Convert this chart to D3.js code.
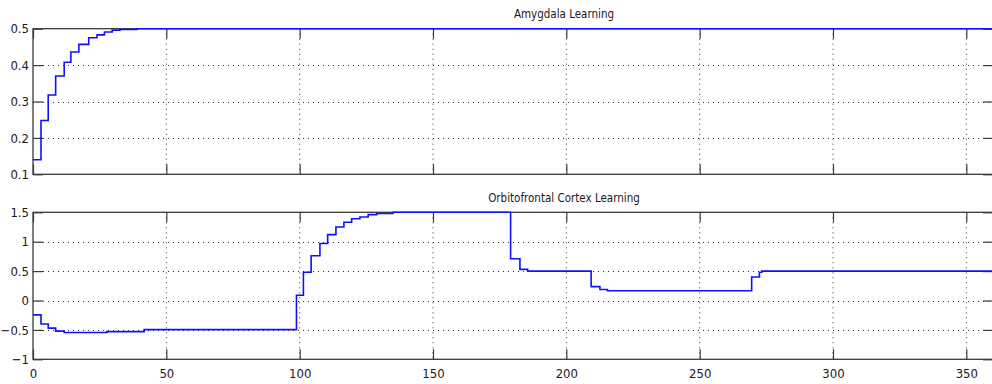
<!DOCTYPE html>
<html>
<head>
<meta charset="utf-8">
<script src="https://cdn.jsdelivr.net/npm/d3@7"></script>
<style>
  html, body { margin: 0; padding: 0; background: #fff; }
  svg { display: block; }
  text { font-family: "Liberation Sans Narrow", "DejaVu Sans Condensed", "Liberation Sans", sans-serif; fill: #1a1a1a; }
</style>
</head>
<body>
<svg id="chart" width="992" height="384"></svg>
<script>
// Amygdala learning: [time, value] steps (held until next time)
const amygdalaTimes  = [0, 3, 5.7, 8.5, 11.7, 14.2, 17.2, 20.9, 24, 26.8, 29.7, 32.6, 39];
const amygdalaValues = [0.14, 0.248, 0.318, 0.37, 0.408, 0.436, 0.457, 0.475, 0.483, 0.491, 0.496, 0.498, 0.5];

// Orbitofrontal cortex learning: [time, value] steps
const ofcTimes  = [0, 3, 5.7, 8.5, 11.7, 27.7, 41.7, 98.8, 101.4, 104.3, 107.6, 110.5, 113.6, 116.6, 119.5,
                   122.6, 125.7, 128.9, 135, 179.1, 182.6, 185.5, 209.3, 212.6, 215.4, 269.5, 272.4, 273.3];
const ofcValues = [-0.245, -0.40, -0.47, -0.52, -0.545, -0.53, -0.495, 0.09, 0.48, 0.76, 0.97, 1.12, 1.25, 1.33, 1.39,
                   1.42, 1.46, 1.48, 1.5, 0.71, 0.53, 0.5, 0.236, 0.186, 0.165, 0.40, 0.48, 0.5];

const xEnd = 360;
const xTicks = [0, 50, 100, 150, 200, 250, 300, 350];
const amygdalaTicks = [0.1, 0.2, 0.3, 0.4, 0.5];
const ofcTicks = [-1, -0.5, 0, 0.5, 1, 1.5];

const titles = ["Amygdala Learning", "Orbitofrontal Cortex Learning"];

const svg = d3.select("#chart");
const left = 33, right = 993;
const x = d3.scaleLinear().domain([0, xEnd]).range([left, right]);
const tickLen = 10;

function panel(cfg) {
  const y = d3.scaleLinear().domain(cfg.yDomain).range([cfg.bottom, cfg.top]);
  const g = svg.append("g");

  // dotted grid
  g.append("g").selectAll("line.vg").data(xTicks.filter(t => t > 0))
    .join("line")
    .attr("x1", d => x(d)).attr("x2", d => x(d))
    .attr("y1", cfg.top).attr("y2", cfg.bottom)
    .attr("stroke", "#333").attr("stroke-width", 1).attr("stroke-dasharray", "1,4");
  g.append("g").selectAll("line.hg").data(cfg.yTicks.filter(t => t > cfg.yDomain[0] && t < cfg.yDomain[1]))
    .join("line")
    .attr("x1", left).attr("x2", right)
    .attr("y1", d => Math.round(y(d)) + 0.5).attr("y2", d => Math.round(y(d)) + 0.5)
    .attr("stroke", "#333").attr("stroke-width", 1).attr("stroke-dasharray", "1,4");

  // axes with inward ticks on all four sides
  const axisColor = "#3a3a3a";
  const axL = d3.axisLeft(y).tickValues(cfg.yTicks).tickSize(-tickLen).tickPadding(4)
    .tickFormat(d => d3.format("")(d));
  const axR = d3.axisRight(y).tickValues(cfg.yTicks).tickSize(-tickLen).tickFormat("");
  const axB = d3.axisBottom(x).tickValues(xTicks).tickSize(-tickLen).tickPadding(9)
    .tickFormat(cfg.showX ? d3.format("d") : "");
  const axT = d3.axisTop(x).tickValues(xTicks).tickSize(-tickLen).tickFormat("");

  const styleAxis = sel => {
    sel.select(".domain").remove();
    sel.selectAll(".tick line").attr("stroke", axisColor).attr("stroke-width", 1.2);
    sel.selectAll(".tick text").attr("font-size", 13).attr("fill", "#1a1a1a")
      .attr("font-family", '"Liberation Sans Narrow", "DejaVu Sans Condensed", sans-serif');
  };
  g.append("g").attr("transform", `translate(${left},0)`).call(axL).call(styleAxis);
  g.append("g").attr("transform", `translate(${right},0)`).call(axR).call(styleAxis);
  g.append("g").attr("transform", `translate(0,${cfg.bottom})`).call(axB).call(styleAxis);
  g.append("g").attr("transform", `translate(0,${cfg.top})`).call(axT).call(styleAxis);

  g.append("rect")
    .attr("x", left).attr("y", cfg.top)
    .attr("width", right - left).attr("height", cfg.bottom - cfg.top)
    .attr("fill", "none").attr("stroke", axisColor).attr("stroke-width", 1.3);

  // step line
  const pts = cfg.times.map((t, i) => [t, cfg.values[i]]);
  pts.push([xEnd, cfg.values[cfg.values.length - 1]]);
  const line = d3.line().x(d => x(d[0])).y(d => y(d[1])).curve(d3.curveStepAfter);
  g.append("path").datum(pts)
    .attr("d", line)
    .attr("fill", "none").attr("stroke", "#1010ff").attr("stroke-width", 1.6);

  svg.append("text")
    .attr("x", 564).attr("y", cfg.titleY)
    .attr("text-anchor", "middle")
    .attr("font-size", 11.5)
    .text(cfg.title);
}

panel({
  top: 28.7, bottom: 174.3, yDomain: [0.1, 0.5], yTicks: amygdalaTicks,
  times: amygdalaTimes, values: amygdalaValues, showX: false,
  title: titles[0], titleY: 18
});
panel({
  top: 212.3, bottom: 359.3, yDomain: [-1, 1.5], yTicks: ofcTicks,
  times: ofcTimes, values: ofcValues, showX: true,
  title: titles[1], titleY: 202
});
</script>
</body>
</html>
